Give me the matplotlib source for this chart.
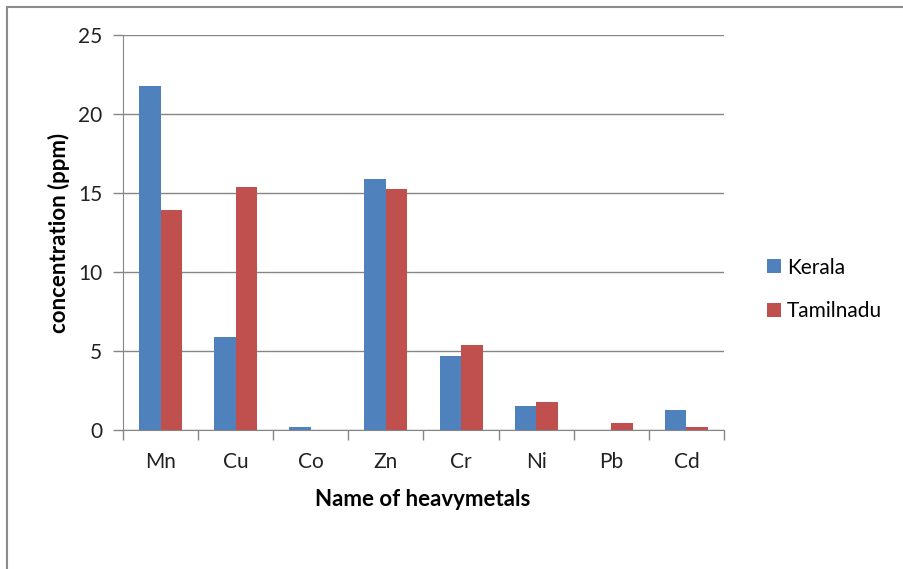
import numpy as np
import matplotlib.pyplot as plt
from matplotlib.patches import Rectangle

metals = ["Mn", "Cu", "Co", "Zn", "Cr", "Ni", "Pb", "Cd"]
kerala = [21.75, 5.9, 0.2, 15.9, 4.7, 1.52, 0.0, 1.27]
tamilnadu = [13.95, 15.4, 0.0, 15.25, 5.4, 1.75, 0.44, 0.2]

plt.rcParams['font.family'] = ['Lato', 'DejaVu Sans']

fig = plt.figure(figsize=(9.04, 5.69), dpi=100)
W, H = 904, 569
ax = fig.add_axes([123 / W, (H - 430) / H, 601 / W, 395 / H])

# outer chart border (only left and top edges fall inside the image)
fig.patches.append(Rectangle((7 / W, -0.1), 1.2, (H - 7) / H + 0.1,
                             transform=fig.transFigure, fill=False,
                             edgecolor="#8c8c8c", linewidth=1.5))

x = np.arange(len(metals))
w = 1 / 3.5
ax.bar(x - w / 2, kerala, w, color="#4F81BD", label="Kerala", zorder=3)
ax.bar(x + w / 2, tamilnadu, w, color="#C0504D", label="Tamilnadu", zorder=3)

ax.set_xlim(-0.5, len(metals) - 0.5)
ax.set_ylim(0, 25)
ax.set_yticks([0, 5, 10, 15, 20, 25])
ax.yaxis.grid(True, color="#868686", linewidth=1, zorder=0)

ax.set_xticks(x)
ax.set_xticklabels(metals)
ax.set_xticks(np.arange(len(metals) + 1) - 0.5, minor=True)
ax.tick_params(axis="x", which="major", length=0, pad=16, labelsize=15,
               labelcolor="#222222")
ax.tick_params(axis="x", which="minor", length=7, color="#868686", width=1)
ax.tick_params(axis="y", length=7, color="#868686", width=1, labelsize=15,
               pad=8, labelcolor="#222222")

for s in ["top", "right"]:
    ax.spines[s].set_visible(False)
for s in ["left", "bottom"]:
    ax.spines[s].set_color("#868686")

ax.set_ylabel("concentration (ppm)", fontsize=16, fontweight="bold",
              va="center")
ax.yaxis.set_label_coords((59 - 123) / 601, (430 - 233) / 395)
ax.set_xlabel("Name of heavymetals", fontsize=16, fontweight="bold",
              va="center")
ax.xaxis.set_label_coords((423 - 123) / 601, (430 - 500) / 395)

ax.legend(loc="center left", bbox_to_anchor=((767 - 123) / 601, (430 - 289.5) / 395),
          frameon=False, fontsize=15, borderpad=0, borderaxespad=0,
          handlelength=0.65, handleheight=0.65, labelspacing=1.15,
          handletextpad=0.3)

fig.savefig("out.png", dpi=100)
